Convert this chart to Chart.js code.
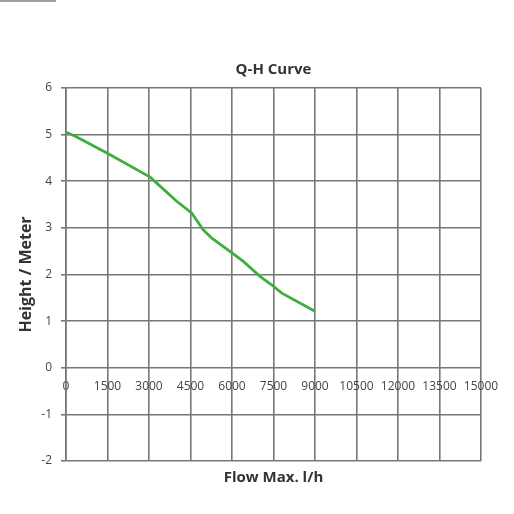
<!DOCTYPE html>
<html>
<head>
<meta charset="utf-8">
<script src="https://cdn.jsdelivr.net/npm/chart.js@4/dist/chart.umd.min.js"></script>
<style>
  html, body { margin: 0; padding: 0; background: #fff; }
  #wrap { position: relative; width: 514px; height: 514px; }
  #bar { position: absolute; left: 0; top: 0; width: 56px; height: 2px; background: #a0a0a0; }
</style>
</head>
<body>
<div id="wrap">
  <div id="bar"></div>
  <canvas id="qhChart" width="514" height="514"></canvas>
</div>
<script>
// Q-H curve
const flowValues = [0, 320, 1530, 3040, 3280, 4000, 4540, 4960, 5270, 6170, 6410, 7010, 7430, 7800, 9000];
const heightValues = [5.05, 4.97, 4.59, 4.09, 3.96, 3.57, 3.32, 2.96, 2.78, 2.39, 2.28, 1.96, 1.78, 1.60, 1.21];

const xTicks = [0, 1500, 3000, 4500, 6000, 7500, 9000, 10500, 12000, 13500, 15000];
const yTicks = [-2, -1, 0, 1, 2, 3, 4, 5, 6];

const chartTitle = 'Q-H Curve';
const xTitle = 'Flow Max. l/h';
const yTitle = 'Height / Meter';

const gridColor = '#777';
const fontFamily = '"Open Sans", sans-serif';

document.addEventListener('DOMContentLoaded', function () {
    initQHChart();
});

function initQHChart() {
    try {
        const ctx = document.getElementById('qhChart').getContext('2d');
        const points = flowValues.map((q, i) => ({ x: q, y: heightValues[i] }));

        new Chart(ctx, {
            type: 'line',
            data: {
                datasets: [{
                    label: 'Q-H',
                    data: points,
                    borderColor: '#3fae3f',
                    borderWidth: 2.8,
                    pointRadius: 0,
                    tension: 0,
                    fill: false
                }]
            },
            options: {
                responsive: false,
                animation: false,
                layout: { padding: { left: 0, right: 33, top: 0, bottom: 0 } },
                plugins: {
                    legend: { display: false },
                    tooltip: { enabled: false },
                    title: {
                        display: true,
                        fullSize: false,
                        text: chartTitle,
                        color: '#333',
                        font: { family: fontFamily, size: 15, weight: 'bold', lineHeight: 1.2 },
                        padding: { top: 61, bottom: 9 }
                    },
                    subtitle: {
                        display: true,
                        fullSize: false,
                        position: 'bottom',
                        text: xTitle,
                        color: '#333',
                        font: { family: fontFamily, size: 15, weight: 'bold', lineHeight: 1.2 },
                        padding: { top: 8, bottom: 27 }
                    }
                },
                scales: {
                    x: {
                        type: 'linear',
                        position: { y: 0 },
                        min: 0,
                        max: 15000,
                        afterBuildTicks: (scale) => { scale.ticks = xTicks.map(v => ({ value: v })); },
                        afterFit: (scale) => { scale.height = 0; },
                        grid: { color: gridColor, lineWidth: 1.6, drawTicks: false },
                        border: { display: false },
                        ticks: {
                            color: '#444',
                            font: { family: fontFamily, size: 12 },
                            padding: 12,
                            maxRotation: 0,
                            autoSkip: false,
                            callback: (value) => String(value)
                        }
                    },
                    y: {
                        type: 'linear',
                        position: 'left',
                        min: -2,
                        max: 6,
                        afterBuildTicks: (scale) => { scale.ticks = yTicks.map(v => ({ value: v })); },
                        afterFit: (scale) => { scale.width = 66; },
                        grid: { color: gridColor, lineWidth: 1.6, drawTicks: true, tickLength: 5 },
                        border: { color: gridColor, width: 1.6 },
                        ticks: {
                            color: '#444',
                            font: { family: fontFamily, size: 12 },
                            padding: 9,
                            callback: (value) => String(value)
                        },
                        title: {
                            display: true,
                            text: yTitle,
                            color: '#333',
                            font: { family: fontFamily, size: 16, weight: 'bold', lineHeight: 1.2 },
                            padding: { top: 17, bottom: 0 }
                        }
                    }
                }
            }
        });
    } catch (e) { console.error('Error Q-H chart:', e); }
}
</script>
</body>
</html>
